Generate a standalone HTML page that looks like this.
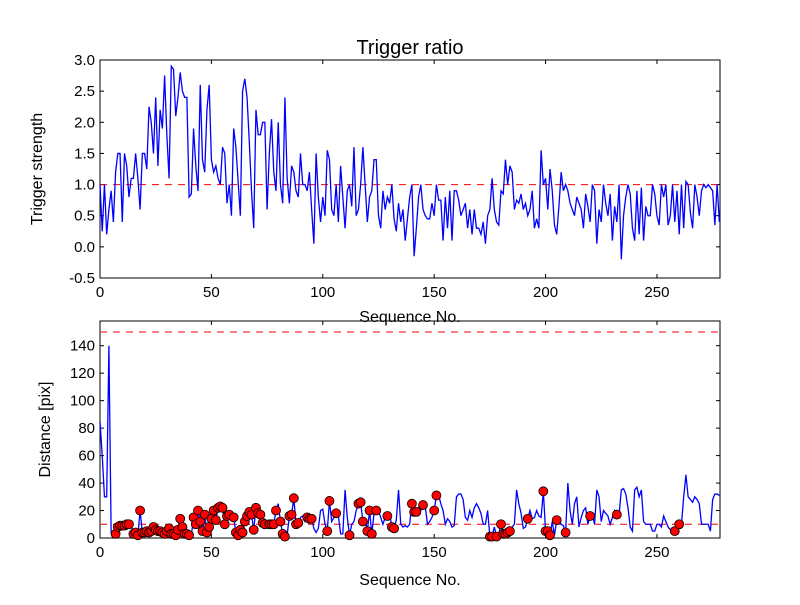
<!DOCTYPE html>
<html><head><meta charset="utf-8"><style>
body{margin:0;background:#fff;}
svg text{font-family:"Liberation Sans","DejaVu Sans",sans-serif;fill:#000;}
</style></head><body>
<svg id="chart" width="800" height="600" viewBox="0 0 800 600" xmlns="http://www.w3.org/2000/svg">
<rect width="800" height="600" fill="#fff"/>
<text x="410" y="54" font-size="20" text-anchor="middle">Trigger ratio</text>
<g id="top"></g>
<g id="bot"></g>
</svg>
<script>
const strength = [
1.0,0.25,1.0,0.2,0.6,0.9,0.4,1.2,1.5,1.5,
0.4,1.5,1.3,0.8,1.1,1.1,1.5,1.1,0.6,1.5,
1.5,1.25,2.25,2.0,1.5,2.4,1.3,2.2,1.9,2.75,
1.8,1.1,2.9,2.85,2.1,2.4,2.8,2.5,2.4,2.4,
0.8,0.85,1.9,1.3,0.9,2.6,1.4,1.2,2.2,2.6,
1.4,1.2,1.3,1.1,1.0,1.6,1.5,0.7,1.0,0.5,
1.9,1.6,1.05,0.5,2.5,2.7,2.4,1.7,0.9,0.3,
2.2,1.8,1.8,2.0,2.0,0.6,1.5,2.05,1.2,0.9,
2.0,1.0,0.7,2.4,1.1,0.7,1.3,1.2,0.9,0.8,
1.5,1.0,1.0,0.9,1.2,0.6,0.05,1.5,0.8,0.4,
0.8,0.5,1.55,1.4,0.6,0.5,1.0,0.4,1.3,0.8,
0.3,0.9,1.0,0.65,1.6,0.5,0.6,1.0,1.6,1.0,
0.4,0.8,0.9,1.4,1.4,0.5,0.3,0.9,0.6,0.8,
0.7,1.0,0.45,0.25,0.7,0.4,0.6,0.1,0.45,0.8,
1.0,-0.15,0.3,0.8,1.0,0.6,0.5,0.45,0.45,0.7,
0.5,1.0,0.75,0.75,0.1,0.8,0.3,0.9,0.1,0.9,
0.9,0.75,0.5,0.6,0.7,0.3,0.6,0.2,0.6,0.3,
0.3,0.2,0.4,0.05,0.5,0.6,1.1,0.6,0.4,0.35,
0.9,0.85,1.4,1.0,1.3,1.2,0.6,0.75,0.7,0.85,
0.6,0.7,0.5,0.6,0.9,0.3,0.45,0.3,1.55,1.0,
1.1,0.6,1.25,0.9,0.35,0.2,0.65,1.2,0.9,1.0,
0.9,0.7,0.6,0.5,0.8,0.7,0.6,0.3,0.85,0.65,
0.4,1.0,0.9,0.05,0.6,0.4,1.0,0.7,0.5,0.85,
0.1,0.65,0.4,1.0,-0.2,0.5,0.8,1.0,0.85,0.3,
0.1,0.9,0.2,0.95,0.1,0.65,0.5,0.5,1.0,0.85,
0.5,0.35,1.0,0.8,1.0,0.35,0.5,1.0,0.4,0.9,
0.2,1.0,0.3,1.05,1.0,0.55,0.3,1.0,0.8,0.5,
0.9,1.0,0.95,1.0,0.95,0.9,0.35,1.0,0.4];
const distance = [
85,60,30,30,140,3,3,3,8,9,
9,9,10,10,10,3,4,2,20,4,
4,5,4,5,8,6,5,5,4,3,
5,7,3,3,2,6,14,8,3,3,
2,2,15,10,20,12,5,17,4,8,
14,20,13,22,23,22,10,16,17,18,
15,4,2,6,4,12,16,19,17,6,
22,18,17,11,10,11,10,10,10,20,
25,12,3,1,2,16,17,29,10,11,
15,16,12,15,14,14,7,4,7,20,
21,10,5,27,12,15,18,16,3,3,
35,15,2,10,12,20,25,26,12,14,
5,20,3,18,20,20,15,10,15,16,
18,8,7,13,35,10,8,9,8,10,
25,19,19,22,20,24,23,10,12,15,
20,31,31,25,20,10,14,12,8,9,
30,32,32,28,15,13,20,15,22,25,
22,18,10,10,20,1,1,8,1,3,
10,3,3,4,5,8,10,35,25,18,
7,8,14,20,14,15,20,16,15,34,
5,5,2,12,2,13,13,10,9,4,
40,20,10,25,30,8,15,20,22,10,
16,17,10,35,30,12,20,18,16,10,
15,20,17,17,35,36,32,22,8,5,
35,37,30,35,12,10,10,10,5,5,
10,10,8,16,12,8,6,5,5,10,
10,10,30,46,30,28,26,30,28,25,
10,10,10,10,5,28,32,32,31];
const markerIdx = [7,8,9,10,11,12,13,15,16,17,18,19,20,21,22,23,24,25,26,27,28,29,30,31,32,33,34,35,36,37,38,39,40,42,43,44,45,46,47,48,49,50,51,52,53,54,55,56,57,58,60,61,62,63,64,65,66,67,68,69,70,71,72,73,74,76,77,78,79,81,82,83,85,86,87,88,89,93,94,95,102,103,106,112,116,117,118,120,121,122,124,129,131,132,140,141,142,145,150,151,175,176,178,180,181,182,183,184,192,199,200,201,202,205,209,220,232,258,260];
const topYTicks = [-0.5,0.0,0.5,1.0,1.5,2.0,2.5,3.0];
const botYTicks = [0,20,40,60,80,100,120,140];
const xTicks = [0,50,100,150,200,250];

const NS="http://www.w3.org/2000/svg";
function mk(parent,tag,attrs){const e=document.createElementNS(NS,tag);for(const k in attrs)e.setAttribute(k,attrs[k]);parent.appendChild(e);return e;}
const L=100,R=720,XMAX=278.3;
const xs=v=>L+(v/XMAX)*(R-L);

function panel(g,top,bot,ymin,ymax,yticks,fmt,ylabel,ylx,name){
  const ys=v=>bot-(v-ymin)/(ymax-ymin)*(bot-top);
  const ax=mk(g,'rect',{x:L,y:top,width:R-L,height:bot-top,fill:'none',stroke:'#000','stroke-width':1});
  
  
  xTicks.forEach(t=>{const x=xs(t);
    const a=mk(g,'line',{x1:x,x2:x,y1:bot,y2:bot-4,stroke:'#000'});
    
    
    mk(g,'line',{x1:x,x2:x,y1:top,y2:top+4,stroke:'#000'});
    const tx=mk(g,'text',{x:x,y:bot+19,'font-size':15,'text-anchor':'middle'});tx.textContent=t;
    
    
  });
  yticks.forEach(t=>{const y=ys(t);
    const a=mk(g,'line',{x1:L,x2:L+4,y1:y,y2:y,stroke:'#000'});
    
    
    mk(g,'line',{x1:R,x2:R-4,y1:y,y2:y,stroke:'#000'});
    const tx=mk(g,'text',{x:L-5,y:y+5,'font-size':15,'text-anchor':'end'});tx.textContent=fmt(t);
    
    
  });
  const yl=mk(g,'text',{x:ylx,y:(top+bot)/2,'font-size':16,'text-anchor':'middle',transform:`rotate(-90 ${ylx} ${(top+bot)/2})`});
  yl.textContent=ylabel;
  
  
  return ys;
}
function hline(g,ys,v,name){const y=ys(v);
  const l=mk(g,'line',{x1:L,x2:R,y1:y,y2:y,stroke:'#f00','stroke-width':1,'stroke-dasharray':'7,6'});
  
  }
function xlabel(g,y,name){const t=mk(g,'text',{x:410,y:y,'font-size':16,'text-anchor':'middle'});t.textContent='Sequence No.';
  
  }

// top
const gt=document.getElementById('top');
const ysT=panel(gt,60,278,-0.5,3.0,topYTicks,v=>v.toFixed(1),'Trigger strength',42,'top');
hline(gt,ysT,1.0,'top-threshold-line');
const pT=mk(gt,'polyline',{points:strength.map((v,i)=>xs(i)+','+ysT(v)).join(' '),fill:'none',stroke:'#00f','stroke-width':1.3});


xlabel(gt,322,'top-x-axis-title');

// bottom
const gb=document.getElementById('bot');
const ysB=panel(gb,321,538,0,158,botYTicks,v=>String(v),'Distance [pix]',50,'bottom');
hline(gb,ysB,150,'upper-threshold-line');
hline(gb,ysB,10,'lower-threshold-line');
const pB=mk(gb,'polyline',{points:distance.map((v,i)=>xs(i)+','+ysB(v)).join(' '),fill:'none',stroke:'#00f','stroke-width':1.3});


markerIdx.forEach(i=>{
  const c=mk(gb,'circle',{cx:xs(i),cy:ysB(distance[i]),r:4.5,fill:'#f00',stroke:'#000','stroke-width':0.8});
  
  
});
xlabel(gb,585,'bottom-x-axis-title');
</script>
</body></html>
